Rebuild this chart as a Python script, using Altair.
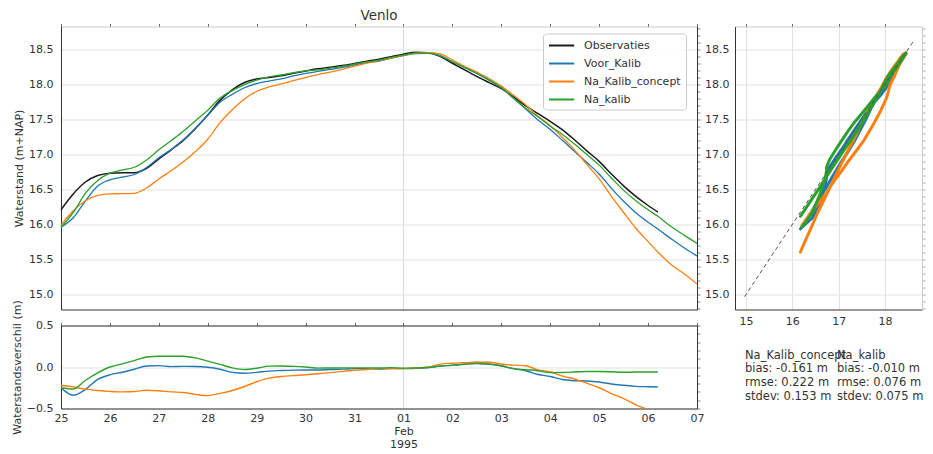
import altair as alt
import pandas as pd

# ---------------- data ----------------
DAYS = [0, 0.25, 0.5, 0.75, 1, 1.25, 1.5, 1.75, 2, 2.25, 2.5, 2.75, 3, 3.25, 3.5, 3.75,
        4, 4.25, 4.5, 4.75, 5, 5.25, 5.5, 5.75, 6, 6.25, 6.5, 6.75, 7, 7.25, 7.5, 7.75,
        8, 8.25, 8.5, 8.75, 9, 9.25, 9.5, 9.75, 10, 10.25, 10.5, 10.75, 11, 11.25, 11.5, 11.75,
        12, 12.2, 12.5, 12.75, 13]

OBS = [16.21, 16.435, 16.605, 16.697, 16.731, 16.738, 16.739, 16.80, 16.935, 17.065, 17.20, 17.37,
       17.56, 17.77, 17.92, 18.025, 18.075, 18.095, 18.12, 18.156, 18.19, 18.22, 18.242, 18.266,
       18.297, 18.33, 18.357, 18.393, 18.429, 18.455, 18.45, 18.397, 18.30, 18.205, 18.112, 18.024,
       17.937, 17.82, 17.69, 17.58, 17.47, 17.35, 17.205, 17.05, 16.90, 16.72, 16.55, 16.40,
       16.27, 16.176, None, None, None]

VOOR = [15.96, 16.095, 16.335, 16.547, 16.637, 16.675, 16.712, 16.812, 16.951, 17.069, 17.207, 17.376,
        17.557, 17.743, 17.855, 17.95, 18.01, 18.045, 18.077, 18.118, 18.154, 18.184, 18.211, 18.24,
        18.277, 18.31, 18.331, 18.373, 18.409, 18.439, 18.44, 18.407, 18.323, 18.24, 18.155, 18.056,
        17.952, 17.80, 17.645, 17.49, 17.355, 17.20, 17.04, 16.882, 16.72, 16.515, 16.33, 16.167,
        16.032, 15.935, 15.78, 15.66, 15.55]

CONCEPT = [15.99, 16.195, 16.338, 16.414, 16.437, 16.438, 16.444, 16.52, 16.648, 16.765, 16.893, 17.04,
           17.215, 17.452, 17.637, 17.79, 17.897, 17.961, 18.005, 18.053, 18.096, 18.138, 18.174, 18.213,
           18.257, 18.30, 18.337, 18.373, 18.412, 18.443, 18.45, 18.432, 18.346, 18.257, 18.172, 18.082,
           17.973, 17.842, 17.705, 17.545, 17.41, 17.24, 17.06, 16.853, 16.65, 16.40, 16.17, 15.945,
           15.755, 15.606, 15.41, 15.29, 15.15]

NA = [15.96, 16.17, 16.445, 16.627, 16.731, 16.776, 16.816, 16.92, 17.065, 17.195, 17.33, 17.48,
      17.63, 17.802, 17.91, 17.995, 18.06, 18.105, 18.132, 18.164, 18.19, 18.206, 18.23, 18.256,
      18.287, 18.32, 18.345, 18.385, 18.415, 18.443, 18.445, 18.409, 18.32, 18.238, 18.157, 18.062,
      17.949, 17.80, 17.657, 17.535, 17.402, 17.284, 17.145, 16.996, 16.846, 16.662, 16.486, 16.339,
      16.21, 16.116, 15.955, 15.84, 15.73]

SERIES = ["Observaties", "Voor_Kalib", "Na_Kalib_concept", "Na_kalib"]
COLORS = ["#1a1a1a", "#1f77b4", "#ff7f0e", "#2ca02c"]

Y_TICKS = [15.0, 15.5, 16.0, 16.5, 17.0, 17.5, 18.0, 18.5]
DIFF_TICKS = [-0.5, 0.0, 0.5]
SC_X_TICKS = [15, 16, 17, 18]
DIAG = [14.97, 18.61]

STAT_COLS = [0, 1]
STAT_HEAD = ["Na_Kalib_concept", "Na_kalib"]
STAT_BIAS = ["bias: -0.161 m", "bias: -0.010 m"]
STAT_RMSE = ["rmse: 0.222 m", "rmse: 0.076 m"]
STAT_STDEV = ["stdev: 0.153 m", "stdev: 0.075 m"]

# ---------------- tables ----------------
t0 = pd.Timestamp("1995-01-25")
times = [t0 + pd.Timedelta(days=d) for d in DAYS]
all_vals = [OBS, VOOR, CONCEPT, NA]

rows = []
for name, vals in zip(SERIES, all_vals):
    for i, (t, v) in enumerate(zip(times, vals)):
        if v is not None:
            rows.append({"time": t, "series": name, "value": v, "idx": i})
levels = pd.DataFrame(rows)

drows = []
for name, vals in zip(SERIES[1:], all_vals[1:]):
    for i, (t, o, v) in enumerate(zip(times, OBS, vals)):
        if o is not None:
            drows.append({"time": t, "series": name, "diff": round(v - o, 4),
                          "obs": o, "model": v, "idx": i})
diffs = pd.DataFrame(drows)

diag = pd.DataFrame({"a": DIAG, "b": DIAG})

srows = []
for c in STAT_COLS:
    for r, lines in enumerate([STAT_HEAD, STAT_BIAS, STAT_RMSE, STAT_STDEV]):
        srows.append({"col": c, "row": r, "text": lines[c]})
stats = pd.DataFrame(srows)

# ---------------- styling helpers ----------------
TXT = "#333333"
DARK = "#333333"
LIGHT = "#cccccc"
GRID = "#e3e3e3"

W_MAIN, H_MAIN = 636, 283
W_SC, H_DIFF = 187, 83

xdom = [alt.DateTime(year=1995, month=1, date=25), alt.DateTime(year=1995, month=2, date=7)]
xscale = alt.Scale(domain=xdom)
yscale = alt.Scale(domain=[14.786, 18.824], nice=False, zero=False)
dscale = alt.Scale(domain=[-0.5, 0.5], nice=False, zero=False)
sxscale = alt.Scale(domain=[14.762, 18.80], nice=False, zero=False)

MAIN_MINOR = [round(14.8 + 0.1 * i, 1) for i in range(41)]
DIFF_MINOR = [round(-0.5 + 0.1 * i, 1) for i in range(11)]
DAY_TICKS = {"interval": "day", "step": 1}
FEB1 = [alt.DateTime(year=1995, month=2, date=1)]

legend = alt.Legend(
    title=None, orient="none", legendX=482, legendY=7,
    symbolType="M-1,0H3.2", symbolSize=144, symbolStrokeWidth=2,
    labelOffset=22, padding=5, rowPadding=6,
    strokeColor=LIGHT, fillColor="rgba(255,255,255,0.85)", cornerRadius=3,
    labelFontSize=11, labelColor=TXT, labelFont="DejaVu Sans",
)
color_main = alt.Color("series:N", scale=alt.Scale(domain=SERIES, range=COLORS), legend=legend)
color_nol = alt.Color("series:N", scale=alt.Scale(domain=SERIES, range=COLORS), legend=None)

# ---------------- main panel ----------------
x_main_ax = alt.Axis(title=None, orient="bottom", values=FEB1, labels=False, ticks=False,
                     grid=True, gridColor="#d9d9d9", domainColor=DARK)
y_main_ax = alt.Axis(title="Waterstand (m+NAP)", orient="left", values=Y_TICKS, format=".1f",
                     ticks=False, labelPadding=8, grid=True, gridColor=GRID, domainColor=DARK)

main_layers = []
for k, (name, w) in enumerate(zip(SERIES, [1.5, 1.3, 1.3, 1.3])):
    main_layers.append(
        alt.Chart(levels).transform_filter(alt.datum.series == name)
        .mark_line(strokeWidth=w, interpolate="monotone")
        .encode(x=alt.X("time:T", scale=xscale, axis=x_main_ax if k == 0 else None),
                y=alt.Y("value:Q", scale=yscale, axis=y_main_ax if k == 0 else None),
                color=color_main, order="idx:Q")
    )
main_axes = alt.Chart(levels).mark_point(opacity=0).encode(
    x=alt.X("time:T", scale=xscale,
            axis=alt.Axis(title=None, orient="top", labels=False, tickCount=DAY_TICKS, tickSize=3,
                          tickColor="#666666", domainColor=LIGHT, grid=False)),
    y=alt.Y("value:Q", scale=yscale,
            axis=alt.Axis(title=None, orient="right", labels=False, values=MAIN_MINOR, tickSize=3,
                          tickColor="#888888", domainColor=DARK, grid=False)),
)
main = alt.layer(*main_layers, main_axes).properties(
    width=W_MAIN, height=H_MAIN,
    title=alt.TitleParams("Venlo", fontSize=13.5, fontWeight="normal", color=TXT, offset=1,
                          anchor="middle", font="DejaVu Sans"),
)

# ---------------- difference panel ----------------
label_expr = ("date(datum.value) == 1 ? [timeFormat(datum.value, '%d'), timeFormat(datum.value, '%b'), "
              "timeFormat(datum.value, '%Y')] : timeFormat(datum.value, '%d')")
x_diff_ax = alt.Axis(title=None, orient="bottom", tickCount=DAY_TICKS, labelExpr=label_expr,
                     labelFlush=False, labelLineHeight=13, ticks=False, labelPadding=4,
                     grid=True, gridColor="#d9d9d9",
                     gridOpacity={"condition": {"test": "date(datum.value) == 1 && month(datum.value) == 1",
                                                "value": 1}, "value": 0},
                     domainColor=DARK, labelOverlap=False)
y_diff_ax = alt.Axis(title="Waterstandsverschil (m)", orient="left", values=DIFF_TICKS,
                     format=".1f", ticks=False, labelPadding=8, grid=True, gridColor=GRID,
                     domainColor=DARK)
diff_layers = []
for k, name in enumerate(SERIES[1:]):
    diff_layers.append(
        alt.Chart(diffs).transform_filter(alt.datum.series == name)
        .mark_line(strokeWidth=1.4, interpolate="monotone", clip=True)
        .encode(x=alt.X("time:T", scale=xscale, axis=x_diff_ax if k == 0 else None),
                y=alt.Y("diff:Q", scale=dscale, axis=y_diff_ax if k == 0 else None),
                color=color_nol, order="idx:Q")
    )
diff_axes = alt.Chart(diffs).mark_point(opacity=0).encode(
    x=alt.X("time:T", scale=xscale,
            axis=alt.Axis(title=None, orient="top", labels=False, tickCount=DAY_TICKS, tickSize=3,
                          tickColor="#666666", domainColor=DARK, grid=False)),
    y=alt.Y("diff:Q", scale=dscale,
            axis=alt.Axis(title=None, orient="right", labels=False, values=DIFF_MINOR, tickSize=3,
                          tickColor="#888888", domainColor=DARK, grid=False)),
)
diffc = alt.layer(*diff_layers, diff_axes).properties(width=W_MAIN, height=H_DIFF)

# ---------------- scatter panel ----------------
x_sc_ax = alt.Axis(title=None, orient="bottom", values=SC_X_TICKS, format="d", ticks=False,
                   labelPadding=6, grid=True, gridColor=GRID, domainColor=DARK, labelFlush=False)
y_sc_ax = alt.Axis(title=None, orient="left", values=Y_TICKS, format=".1f", ticks=False,
                   labelPadding=6, grid=True, gridColor=GRID, domainColor=DARK)
sc_layers = []
for k, name in enumerate(SERIES[1:]):
    sc_layers.append(
        alt.Chart(diffs).transform_filter(alt.datum.series == name)
        .mark_line(strokeWidth=3.0, strokeCap="round", strokeJoin="round")
        .encode(x=alt.X("obs:Q", scale=sxscale, axis=x_sc_ax if k == 0 else None),
                y=alt.Y("model:Q", scale=yscale, axis=y_sc_ax if k == 0 else None),
                color=color_nol, order="idx:Q")
    )
sc_diag = alt.Chart(diag).mark_line(strokeDash=[4, 3], strokeWidth=1, color="#555555").encode(
    x=alt.X("a:Q", scale=sxscale, axis=None), y=alt.Y("b:Q", scale=yscale, axis=None))
sc_axes = alt.Chart(diffs).mark_point(opacity=0).encode(
    x=alt.X("obs:Q", scale=sxscale,
            axis=alt.Axis(title=None, orient="top", labels=False, values=SC_X_TICKS, tickSize=3,
                          tickColor="#666666", domainColor=LIGHT, grid=False)),
    y=alt.Y("model:Q", scale=yscale,
            axis=alt.Axis(title=None, orient="right", labels=False, values=MAIN_MINOR, tickSize=3,
                          tickColor="#aaaaaa", domainColor=LIGHT, grid=False)),
)
scatter = alt.layer(*sc_layers, sc_diag, sc_axes).properties(
    width=W_SC, height=H_MAIN,
    title=alt.TitleParams(" ", fontSize=13.5, offset=1, font="DejaVu Sans"),
)

# ---------------- statistics text ----------------
statc = alt.Chart(stats).mark_text(align="left", baseline="middle", fontSize=11.5, color=TXT,
                                   font="DejaVu Sans").encode(
    x=alt.X("col:Q", scale=alt.Scale(domain=[0, 1], range=[10, 102]), axis=None),
    y=alt.Y("row:Q", scale=alt.Scale(domain=[0, 3], range=[30, 71]), axis=None),
    text="text:N",
).properties(width=W_SC, height=H_DIFF)

chart = (
    alt.concat(main, scatter, diffc, statc, columns=2,
               spacing={"row": 16, "column": 38}, bounds="flush", align="each")
    .resolve_scale(color="independent")
    .properties(padding={"left": 11, "top": 8.5, "right": 5, "bottom": 5})
    .configure(font="DejaVu Sans")
    .configure_view(stroke=None)
    .configure_axis(labelFont="DejaVu Sans", labelFontSize=11, labelColor=TXT,
                    titleFont="DejaVu Sans", titleFontSize=11, titleFontWeight="normal",
                    titleColor=TXT, domainWidth=1)
)

chart.save("out.html", embed_options={"renderer": "svg", "actions": False})
